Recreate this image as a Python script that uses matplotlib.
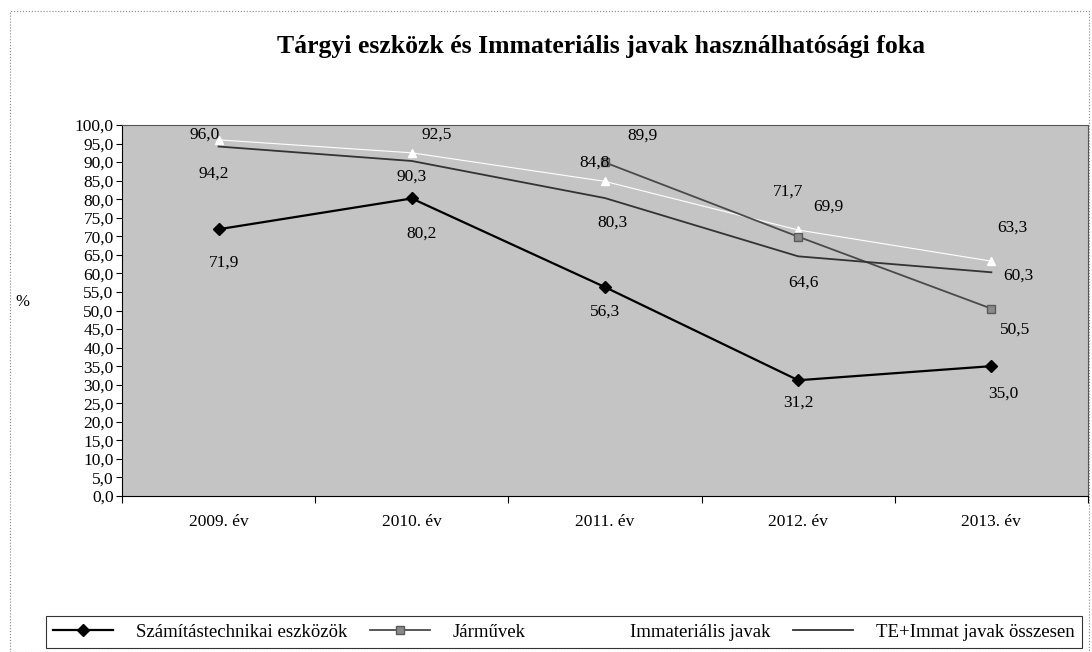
import matplotlib
matplotlib.use("Agg")
import matplotlib.pyplot as plt
import numpy as np
from matplotlib.patches import Rectangle
from matplotlib.ticker import FuncFormatter, FixedLocator

plt.rcParams['font.family'] = ['Liberation Serif', 'DejaVu Serif']

categories = ["2009. év", "2010. év", "2011. év", "2012. év", "2013. év"]
szamitastechnika = [71.9, 80.2, 56.3, 31.2, 35.0]
jarmuvek = [np.nan, np.nan, 89.9, 69.9, 50.5]
immaterialis = [96.0, 92.5, 84.8, 71.7, 63.3]
te_immat = [94.2, 90.3, 80.3, 64.6, 60.3]
series_names = ["Számítástechnikai eszközök", "Járművek", "Immateriális javak",
                "TE+Immat javak összesen"]
title = "Tárgyi eszközk és Immateriális javak használhatósági foka"

# label offsets in pixels (style only)
off_szam = [(5, -33), (10, -35), (0, -25), (0, -22), (12, -27)]
off_jarm = [None, None, (38, 27), (30, 30), (24, -21)]
off_imm = [(-14, 5), (25, 18), (-10, 19), (-10, 38), (21, 34)]
off_te = [(-5, -27), (0, -16), (8, -25), (5, -26), (27, -3)]

fig = plt.figure(figsize=(10.92, 6.52), dpi=100)
ax = fig.add_axes([122/1092, 1-496/652, (1088-122)/1092, (496-125)/652])
ax.set_facecolor('#c4c4c4')

x = np.arange(len(categories))

l1, = ax.plot(x, szamitastechnika, color='black', lw=1.6, marker='D', ms=6,
              mfc='black', mec='black', zorder=5)
l2, = ax.plot(x, jarmuvek, color='#4a4a4a', lw=1.3, marker='s', ms=6,
              mfc='#8a8a8a', mec='#5a5a5a', zorder=4)
l3, = ax.plot(x, immaterialis, color='white', lw=0.8, marker='^', ms=6,
              mfc='white', mec='white', zorder=3)
l4, = ax.plot(x, te_immat, color='#333333', lw=1.3, zorder=4)

def lab(vals, offs):
    for xi, v, o in zip(x, vals, offs):
        if o is None or np.isnan(v):
            continue
        ax.annotate(f"{v:.1f}".replace('.', ','), (xi, v), xytext=o,
                    textcoords='offset pixels', ha='center', va='center',
                    fontsize=12.5, color='black', zorder=6)

lab(szamitastechnika, off_szam)
lab(jarmuvek, off_jarm)
lab(immaterialis, off_imm)
lab(te_immat, off_te)

ax.set_xlim(-0.5, len(categories) - 0.5)
ax.set_ylim(0, 100)
ax.yaxis.set_major_locator(FixedLocator(np.arange(0, 100.1, 5)))
ax.yaxis.set_major_formatter(FuncFormatter(lambda v, p: f"{v:.1f}".replace('.', ',')))
ax.set_xticks(x)
ax.set_xticklabels(categories)
ax.set_xticks(np.arange(-0.5, len(categories)), minor=True)
ax.tick_params(axis='x', which='major', length=0, pad=13, labelsize=12.5)
ax.tick_params(axis='x', which='minor', length=5, direction='out', width=0.8)
ax.tick_params(axis='y', length=4, direction='out', width=0.8, labelsize=12.5, pad=2)
for s in ax.spines.values():
    s.set_color('#555555')
    s.set_linewidth(0.8)
ax.spines['left'].set_color('black')
ax.spines['bottom'].set_color('black')

fig.text(15/1092, 1-302/652, "%", fontsize=12, ha='left', va='center')
fig.text(601/1092, 1-47/652, title, fontsize=18.5, fontweight='bold',
         ha='center', va='center')

leg = fig.legend([l1, l2, l3, l4], series_names, ncol=4,
                 loc='center', bbox_to_anchor=(564/1092, 1-632/652),
                 frameon=True, fancybox=False, edgecolor='black',
                 fontsize=13.5, handlelength=3.2, columnspacing=1.2,
                 borderpad=0.4, handletextpad=1.2)
leg.get_frame().set_linewidth(0.8)

fig.patches.append(Rectangle((10/1092, 0), 1079/1092, 1-11/652,
                             transform=fig.transFigure, fill=False,
                             edgecolor='#888888', lw=0.8, ls=':'))

fig.savefig('out.png', dpi=100)
